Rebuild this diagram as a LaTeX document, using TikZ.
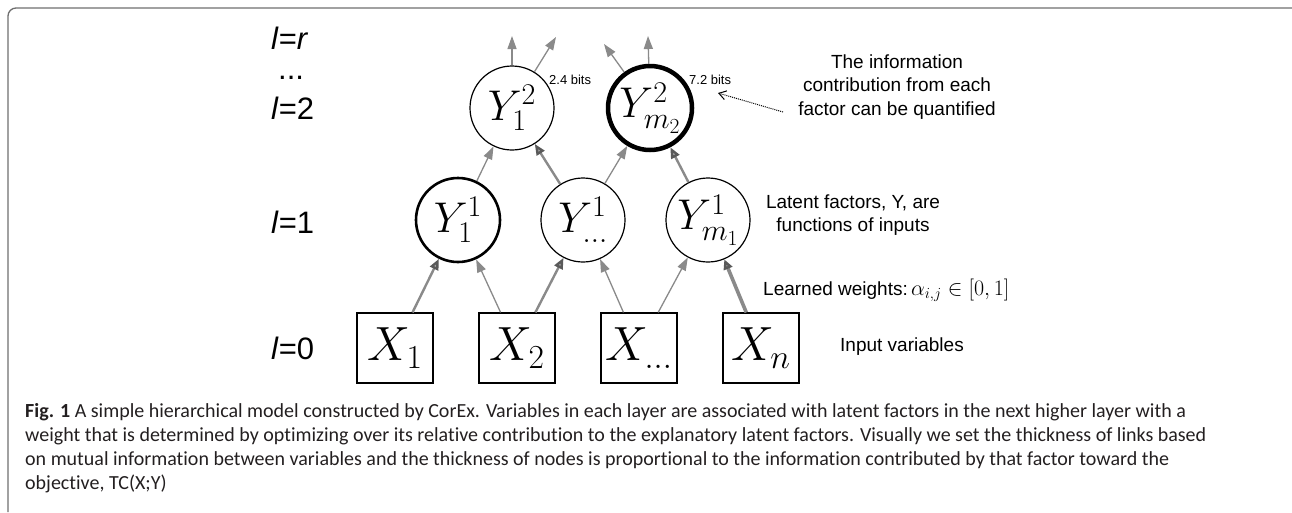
\RequirePackage{fix-cm}
\documentclass[tikz,border=0pt]{standalone}
\usepackage[no-math]{fontspec}
\setmainfont{Liberation Sans}
\newfontfamily\capfont[Ligatures=NoCommon]{Carlito}
\usetikzlibrary{arrows.meta}
\definecolor{framegray}{HTML}{6E6E6E}
\definecolor{linkgray}{HTML}{8A8A8A}
\definecolor{linklight}{HTML}{A8A8A8}
\definecolor{tipdark}{HTML}{5A5A5A}
\definecolor{captxt}{HTML}{231F20}
\begin{document}
\begin{tikzpicture}[x=1pt,y=-1pt,
  ynode/.style={circle, draw, minimum size=84pt, inner sep=0pt, line width=1.2pt,
     font=\fontsize{43}{46}\selectfont},
  xnode/.style={rectangle, draw, minimum width=76pt, minimum height=70pt, inner sep=0pt,
     line width=1.2pt, font=\fontsize{48}{52}\selectfont},
  layer/.style={anchor=west, inner sep=0pt, font=\fontsize{31}{34}\selectfont},
  note/.style={align=center, inner sep=0pt, font=\fontsize{19}{23.5}\selectfont},
  bits/.style={anchor=west, inner sep=0pt, font=\fontsize{13}{15}\selectfont},
  link/.style={draw=linkgray, line width=1.3pt, -{Triangle[length=13pt,width=9pt]}},
  thicklink/.style={draw=linkgray, line width=2.4pt,
     -{Triangle[length=11pt,width=9pt,fill=linklight,color=tipdark]}},
  thickestlink/.style={draw=linkgray, line width=3.6pt,
     -{Triangle[length=10pt,width=9pt,fill=linklight,color=tipdark]}},
]
\useasboundingbox (0,0) rectangle (1292,512);
\draw[framegray, line width=1.3pt, rounded corners=8pt] (8,512) -- (8,8) -- (1292,8);

% layer labels
\node[layer] (lr) at (271,38) {\textit{l}=\textit{r}};
\node[layer] (ldots) at (278,78) {...};
\node[layer] (l2) at (271,108) {\textit{l}=2};
\node[layer] (l1) at (271,222) {\textit{l}=1};
\node[layer] (l0) at (271,348) {\textit{l}=0};

% nodes
\node[ynode] (y21) at (512,108) {$Y^2_1$};
\node[ynode, line width=4.5pt] (y22) at (650,108) {$Y^2_{m_2}$};
\node[ynode, line width=2.6pt] (y11) at (458,220) {$Y^1_1$};
\node[ynode] (y1d) at (583,220) {$Y^1_{\dots}$};
\node[ynode] (y1m) at (708,220) {$Y^1_{m_1}$};
\node[xnode] (x1) at (395,348) {$X_1$};
\node[xnode] (x2) at (517,348) {$X_2$};
\node[xnode] (xd) at (639,348) {$X_{\dots}$};
\node[xnode] (xn) at (761,348) {$X_n$};

% top free ends
\coordinate (t1) at (512,36);
\coordinate (t2) at (556,37);
\coordinate (t3) at (604,44);
\coordinate (t4) at (648,36);
\draw[link] (y21) -- (t1);
\draw[link] (y21) -- (t2);
\draw[link] (y22) -- (t3);
\draw[link] (y22) -- (t4);

% layer 1 -> 2
\draw[link] (y11) -- (y21);
\draw[thicklink] (y1d) -- (y21);
\draw[link] (y1d) -- (y22);
\draw[thicklink] (y1m) -- (y22);

% layer 0 -> 1
\draw[thicklink] (x1) -- (y11);
\draw[link] (x2) -- (y11);
\draw[thicklink] (x2) -- (y1d);
\draw[link] (xd) -- (y1d);
\draw[link] (xd) -- (y1m);
\draw[thickestlink] (xn) -- (y1m);

% bits
\node[bits] (b1) at (549,80) {2.4 bits};
\node[bits] (b2) at (689,80) {7.2 bits};

% notes
\node[note] (n1) at (897,87) {The information\\contribution from each\\factor can be quantified};
\coordinate (ds) at (783,112);
\coordinate (de) at (718,93);
\draw[densely dotted, line width=1pt, -{Straight Barb[length=7pt,width=9pt]}] (ds) -- (de);
\node[note] (n2) at (853,215) {Latent factors, Y, are\\functions of inputs};
\node[anchor=west, inner sep=0pt, font=\fontsize{19}{23}\selectfont] (n3) at (763,290)
  {Learned weights:\,{\fontsize{22}{24}\selectfont$\alpha_{i,j}\in[0,1]$}};
\node[anchor=west, inner sep=0pt, font=\fontsize{19}{23}\selectfont] (n4) at (840,347) {Input variables};

% caption
\node[anchor=base west, inner sep=0pt, align=left, text=captxt,
  font=\capfont\fontsize{20}{24}\selectfont] (cap) at (25,489)
 {\textbf{Fig. 1} A simple hierarchical model constructed by CorEx. Variables in each layer are associated with latent factors in the next higher layer with a\\
 weight that is determined by optimizing over its relative contribution to the explanatory latent factors. Visually we set the thickness of links based\\
 on mutual information between variables and the thickness of nodes is proportional to the information contributed by that factor toward the\\
 objective, TC(X;Y)};
\end{tikzpicture}
\end{document}
